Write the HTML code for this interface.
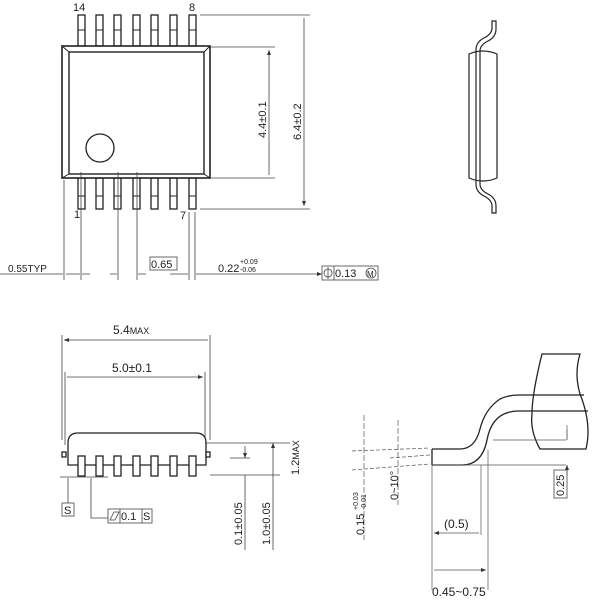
<!DOCTYPE html>
<html><head><style>body{margin:0;background:#fff}svg{display:block}text{font-family:"Liberation Sans",sans-serif;fill:#222}</style></head><body>
<svg width="600" height="600" viewBox="0 0 600 600" xmlns="http://www.w3.org/2000/svg">
<defs><marker id="a" markerWidth="6" markerHeight="6" refX="5" refY="3" orient="auto-start-reverse" markerUnits="userSpaceOnUse"><path d="M0,1 L5,3 L0,5z" fill="#333"/></marker></defs>
<g stroke="#222" fill="none" stroke-width="1.3">
<rect x="78" y="15" width="7" height="31"/><rect x="96" y="15" width="7" height="31"/><rect x="114" y="15" width="7" height="31"/><rect x="133" y="15" width="7" height="31"/><rect x="151" y="15" width="7" height="31"/><rect x="170" y="15" width="7" height="31"/><rect x="189" y="15" width="7" height="31"/>
<rect x="78" y="178" width="7" height="31"/><rect x="96" y="178" width="7" height="31"/><rect x="114" y="178" width="7" height="31"/><rect x="133" y="178" width="7" height="31"/><rect x="151" y="178" width="7" height="31"/><rect x="170" y="178" width="7" height="31"/><rect x="189" y="178" width="7" height="31"/>
<path d="M78 30h7M96 30h7M114 30h7M133 30h7M151 30h7M170 30h7M189 30h7M78 196h7M96 196h7M114 196h7M133 196h7M151 196h7M170 196h7M189 196h7" stroke-width="1"/>
<rect x="62" y="46" width="148" height="132" fill="#fff" stroke-width="1.6"/>
<rect x="69" y="52" width="135" height="122" stroke-width="1.4"/>
<path d="M62 46l7 6M210 46l-6 6M62 178l7-4M210 178l-6-4" stroke-width="1"/>
<circle cx="100" cy="148" r="14"/>
</g>
<g stroke="#444" stroke-width="0.8" fill="none">
<path d="M210 47h65M210 178h65M200 15h110M200 209h110"/>
<path d="M269 50V175M304 18V206" marker-start="url(#a)" marker-end="url(#a)"/>
<path d="M64 180V280M81 172V280M118 172V280M137 172V280M189 212V280M195 212V280"/>
<path d="M0 274H63M57 274h6M66 274h14M90 274h-8M110 274h7M146 274h-8M170 274h18M206 274h-10M206 274H322" marker-end="url(#a)"/>
</g>
<text x="73" y="11" font-size="11">14</text><text x="189" y="11" font-size="11">8</text>
<text x="74" y="218" font-size="11">1</text><text x="180" y="219" font-size="11">7</text>
<text transform="translate(266,138) rotate(-90)" font-size="11">4.4±0.1</text>
<text transform="translate(301,140) rotate(-90)" font-size="11">6.4±0.2</text>
<text x="8" y="272" font-size="10">0.55TYP</text>
<rect x="150" y="257" width="27" height="13" fill="none" stroke="#444" stroke-width="0.8"/>
<text x="151" y="268" font-size="11">0.65</text>
<text x="218" y="272" font-size="11">0.22</text><text x="240" y="264" font-size="7">+0.09</text><text x="240" y="272" font-size="7">-0.06</text>
<g fill="none" stroke="#444" stroke-width="0.8"><rect x="322" y="266" width="56" height="14"/><path d="M334 266v14"/><circle cx="328" cy="273" r="4"/><path d="M328 267v12"/><circle cx="371" cy="273" r="5"/></g>
<text x="335" y="277" font-size="11">0.13</text><text x="367" y="277" font-size="8">M</text>
<g stroke="#222" fill="none" stroke-width="1.2">
<path d="M469 54q14-6 28 0v124q-14 6-28 0z" fill="#fff"/>
<path d="M476 50V184M480 50V184"/>
<path d="M476 50q0-8 8-12q8-4 8-10V21h4v8q0 8-8 12q-8 4-8 10M476 184q0 8 8 12q8 4 8 10v7h4v-7q0-8-8-12q-8-4-8-10"/>
</g>
<g stroke="#444" stroke-width="0.8" fill="none">
<path d="M62 335V440M210 335V440M65 372V445M205 372V445"/>
<path d="M64 340H208M67 377H203" marker-start="url(#a)" marker-end="url(#a)"/>
<path d="M206 443H290M210 475H280M230 458H250M60 477H108"/>
<path d="M273 443V475M245 446V458" marker-start="url(#a)" marker-end="url(#a)"/>
<path d="M273 475V550M245 475V550"/>
<path d="M68 478V503M91 478V518H108"/>
</g>
<g stroke="#222" stroke-width="1.3" fill="#fff">
<path d="M68 443q0-10 10-10h118q10 0 10 10v22H68z"/>
<rect x="62" y="452" width="4" height="5"/><rect x="206" y="452" width="4" height="5"/>
<rect x="78" y="456" width="7" height="20"/><rect x="96" y="456" width="7" height="20"/><rect x="114" y="456" width="7" height="20"/><rect x="133" y="456" width="7" height="20"/><rect x="151" y="456" width="7" height="20"/><rect x="170" y="456" width="7" height="20"/><rect x="189" y="456" width="7" height="20"/>
</g>
<text x="113" y="334" font-size="12">5.4<tspan font-size="9">MAX</tspan></text>
<text x="112" y="372" font-size="12">5.0±0.1</text>
<text transform="translate(299,475) rotate(-90)" font-size="11">1.2<tspan font-size="9">MAX</tspan></text>
<text transform="translate(270,545) rotate(-90)" font-size="11">1.0±0.05</text>
<text transform="translate(242,545) rotate(-90)" font-size="11">0.1±0.05</text>
<rect x="62" y="503" width="12" height="13" fill="none" stroke="#444" stroke-width="0.8"/><text x="64" y="514" font-size="11">S</text>
<rect x="108" y="509" width="44" height="14" fill="none" stroke="#444" stroke-width="0.8"/><path d="M120 509v14M142 509v14M110 520l4-8h5l-4 8z" stroke="#444" stroke-width="0.8" fill="none"/>
<text x="121" y="520" font-size="11">0.1</text><text x="143" y="520" font-size="11">S</text>
<g stroke="#222" stroke-width="1.3" fill="none">
<path d="M542 354H580q-6 20 0 40q12 30 6 55H540q-10-18-8-35q0-20 10-60z" fill="#fff"/>
<path d="M534 395H584M532 411H588"/>
<path d="M432 449V465M432 449H460q15 0 20-20q5-20 20-30q8-4 20-4h14M432 465H462q20 0 25-25q5-28 30-29h15"/>
</g>
<g stroke="#555" stroke-width="0.7" fill="none">
<path d="M432 465V590M488 450V590M481 465V535M432 465H566M493 440H566M567 425V440M567 465V470"/>
<path d="M567 430V440M567 475V465" marker-end="url(#a)"/>
<path d="M434 533H479M434 570H486" marker-start="url(#a)" marker-end="url(#a)"/>
<path d="M352 451L430 448M352 470L430 464M390 458L430 455" stroke-dasharray="4 2"/>
<path d="M364 415V540M398 420V505" stroke-dasharray="6 2"/>
</g>
<text x="444" y="528" font-size="12">(0.5)</text>
<text x="432" y="596" font-size="12">0.45~0.75</text>
<rect x="554" y="470" width="13" height="28" fill="none" stroke="#444" stroke-width="0.8"/>
<text transform="translate(564,496) rotate(-90)" font-size="11">0.25</text>
<text transform="translate(398,500) rotate(-90)" font-size="11">0~10°</text>
<text transform="translate(364,535) rotate(-90)" font-size="11">0.15</text>
<text transform="translate(358,510) rotate(-90)" font-size="7">+0.03</text>
<text transform="translate(366,510) rotate(-90)" font-size="7">-0.01</text>
</svg>
</body></html>
